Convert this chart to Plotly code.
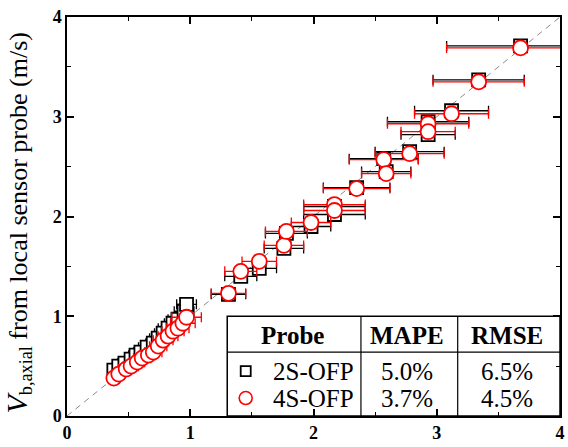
import plotly.graph_objects as go

# ---- data ----
x_cluster_2s = [0.38, 0.42, 0.47, 0.52, 0.56, 0.60, 0.65, 0.70, 0.74, 0.78, 0.82, 0.86, 0.90, 0.95, 0.97]
y_cluster_2s = [0.46, 0.50, 0.53, 0.57, 0.61, 0.64, 0.69, 0.73, 0.78, 0.83, 0.88, 0.93, 0.97, 1.05, 1.12]
e_cluster_2s = [0.05, 0.05, 0.06, 0.05, 0.06, 0.06, 0.07, 0.06, 0.07, 0.07, 0.08, 0.07, 0.08, 0.08, 0.08]

x_cluster_4s = [0.38, 0.42, 0.48, 0.52, 0.57, 0.61, 0.66, 0.70, 0.74, 0.78, 0.82, 0.86, 0.90, 0.94, 0.97]
y_cluster_4s = [0.38, 0.42, 0.47, 0.50, 0.54, 0.58, 0.61, 0.64, 0.70, 0.76, 0.80, 0.85, 0.88, 0.93, 0.99]
e_cluster_4s = [0.05, 0.05, 0.06, 0.06, 0.06, 0.07, 0.06, 0.07, 0.07, 0.08, 0.08, 0.09, 0.09, 0.10, 0.12]

x_high = [1.31, 1.41, 1.56, 1.76, 1.78, 1.98, 2.17, 2.17, 2.35, 2.57, 2.59, 2.78, 2.93, 2.93, 3.12, 3.34, 3.68]
y_high_2s = [1.22, 1.40, 1.48, 1.68, 1.83, 1.90, 2.10, 2.02, 2.29, 2.58, 2.45, 2.65, 2.95, 2.82, 3.06, 3.37, 3.71]
y_high_4s = [1.23, 1.45, 1.55, 1.71, 1.85, 1.94, 2.12, 2.06, 2.28, 2.57, 2.43, 2.63, 2.93, 2.85, 3.03, 3.35, 3.69]
e_high = [0.14, 0.13, 0.14, 0.16, 0.17, 0.16, 0.25, 0.25, 0.27, 0.28, 0.20, 0.28, 0.33, 0.22, 0.30, 0.37, 0.60]

x_2s = x_cluster_2s + x_high
y_2s = y_cluster_2s + y_high_2s
e_2s = e_cluster_2s + e_high
x_4s = x_cluster_4s + x_high
y_4s = y_cluster_4s + y_high_4s
e_4s = e_cluster_4s + e_high

probes = ["2S-OFP", "4S-OFP"]
mape = ["5.0%", "3.7%"]
rmse = ["6.5%", "4.5%"]
ticks = [0, 1, 2, 3, 4]

SERIF = "Liberation Serif"
TFS = 25

fig = go.Figure()

# 1:1 reference line
fig.add_trace(go.Scatter(x=[0, 4], y=[0, 4], mode="lines",
                         line=dict(color="#8a8a8a", width=1, dash="6px,5px"),
                         showlegend=False, hoverinfo="skip"))

fig.add_trace(go.Scatter(
    x=x_2s, y=y_2s, mode="markers", name="2S-OFP",
    marker=dict(symbol="square", size=13, color="white",
                line=dict(color="black", width=1.8)),
    error_x=dict(type="data", array=e_2s, color="black", thickness=1.3, width=5),
    showlegend=False))

fig.add_trace(go.Scatter(
    x=x_4s, y=y_4s, mode="markers", name="4S-OFP",
    marker=dict(symbol="circle", size=15, color="white",
                line=dict(color="red", width=1.8)),
    error_x=dict(type="data", array=e_4s, color="red", thickness=1.3, width=5),
    showlegend=False))

# ---- table in lower right ----
tx0, tx1, tx2, tx3 = 1.30, 2.385, 3.17, 4.0
ty_top, ty_head = 1.0, 0.64
shapes = [
    dict(type="rect", xref="x", yref="y", x0=tx0, x1=tx3, y0=0, y1=ty_top,
         fillcolor="white", line=dict(color="black", width=1.5), layer="below"),
    dict(type="line", xref="x", yref="y", x0=tx0, x1=tx3, y0=ty_head, y1=ty_head,
         line=dict(color="black", width=1.2), layer="below"),
    dict(type="line", xref="x", yref="y", x0=tx1, x1=tx1, y0=0, y1=ty_top,
         line=dict(color="black", width=1.2), layer="below"),
    dict(type="line", xref="x", yref="y", x0=tx2, x1=tx2, y0=0, y1=ty_top,
         line=dict(color="black", width=1.2), layer="below"),
]
fig.update_layout(shapes=shapes)

row_y = [0.45, 0.18]
anns = []
hdr_y = 0.81
for txt, xc in [("Probe", 1.83), ("MAPE", 2.755), ("RMSE", 3.57)]:
    anns.append(dict(x=xc, y=hdr_y, xref="x", yref="y", text="<b>" + txt + "</b>",
                     showarrow=False, font=dict(family=SERIF, size=TFS, color="black")))
for i in range(2):
    anns.append(dict(x=2.0, y=row_y[i], xref="x", yref="y", text=probes[i], showarrow=False,
                     font=dict(family=SERIF, size=TFS, color="black")))
    anns.append(dict(x=2.755, y=row_y[i], xref="x", yref="y", text=mape[i], showarrow=False,
                     font=dict(family=SERIF, size=TFS, color="black")))
    anns.append(dict(x=3.57, y=row_y[i], xref="x", yref="y", text=rmse[i], showarrow=False,
                     font=dict(family=SERIF, size=TFS, color="black")))

# y-axis title as a rotated annotation
anns.append(dict(xref="paper", yref="paper", x=0, y=0.5, xanchor="center", yanchor="middle",
                 xshift=-50, yshift=-7, textangle=-90, showarrow=False,
                 text="<span style='font-size:30px'><i>V</i></span><sub>b,axial</sub> from local sensor probe (m/s)",
                 font=dict(family=SERIF, size=26, color="black")))

fig.add_trace(go.Scatter(x=[1.45], y=[row_y[0]], mode="markers", showlegend=False,
                         marker=dict(symbol="square", size=10, color="white",
                                     line=dict(color="black", width=1.8))))
fig.add_trace(go.Scatter(x=[1.45], y=[row_y[1]], mode="markers", showlegend=False,
                         marker=dict(symbol="circle", size=13, color="white",
                                     line=dict(color="red", width=1.6))))

axis_common = dict(range=[0, 4], tickvals=ticks, ticks="inside", ticklen=7, tickwidth=1.5,
                   tickcolor="black", showline=True, linecolor="black", linewidth=1.5,
                   mirror="ticks", showgrid=False, zeroline=False,
                   tickfont=dict(family=SERIF, size=18, color="black", weight="bold"),
                   minor=dict(dtick=0.5, ticks="inside", ticklen=4, tickwidth=1.2,
                              tickcolor="black", showgrid=False))

fig.update_xaxes(**axis_common)
fig.update_yaxes(**axis_common)

fig.update_layout(
    width=568, height=447,
    margin=dict(l=67, r=3, t=17, b=31),
    paper_bgcolor="white", plot_bgcolor="white",
    annotations=anns,
)

fig.write_html("out.html")
